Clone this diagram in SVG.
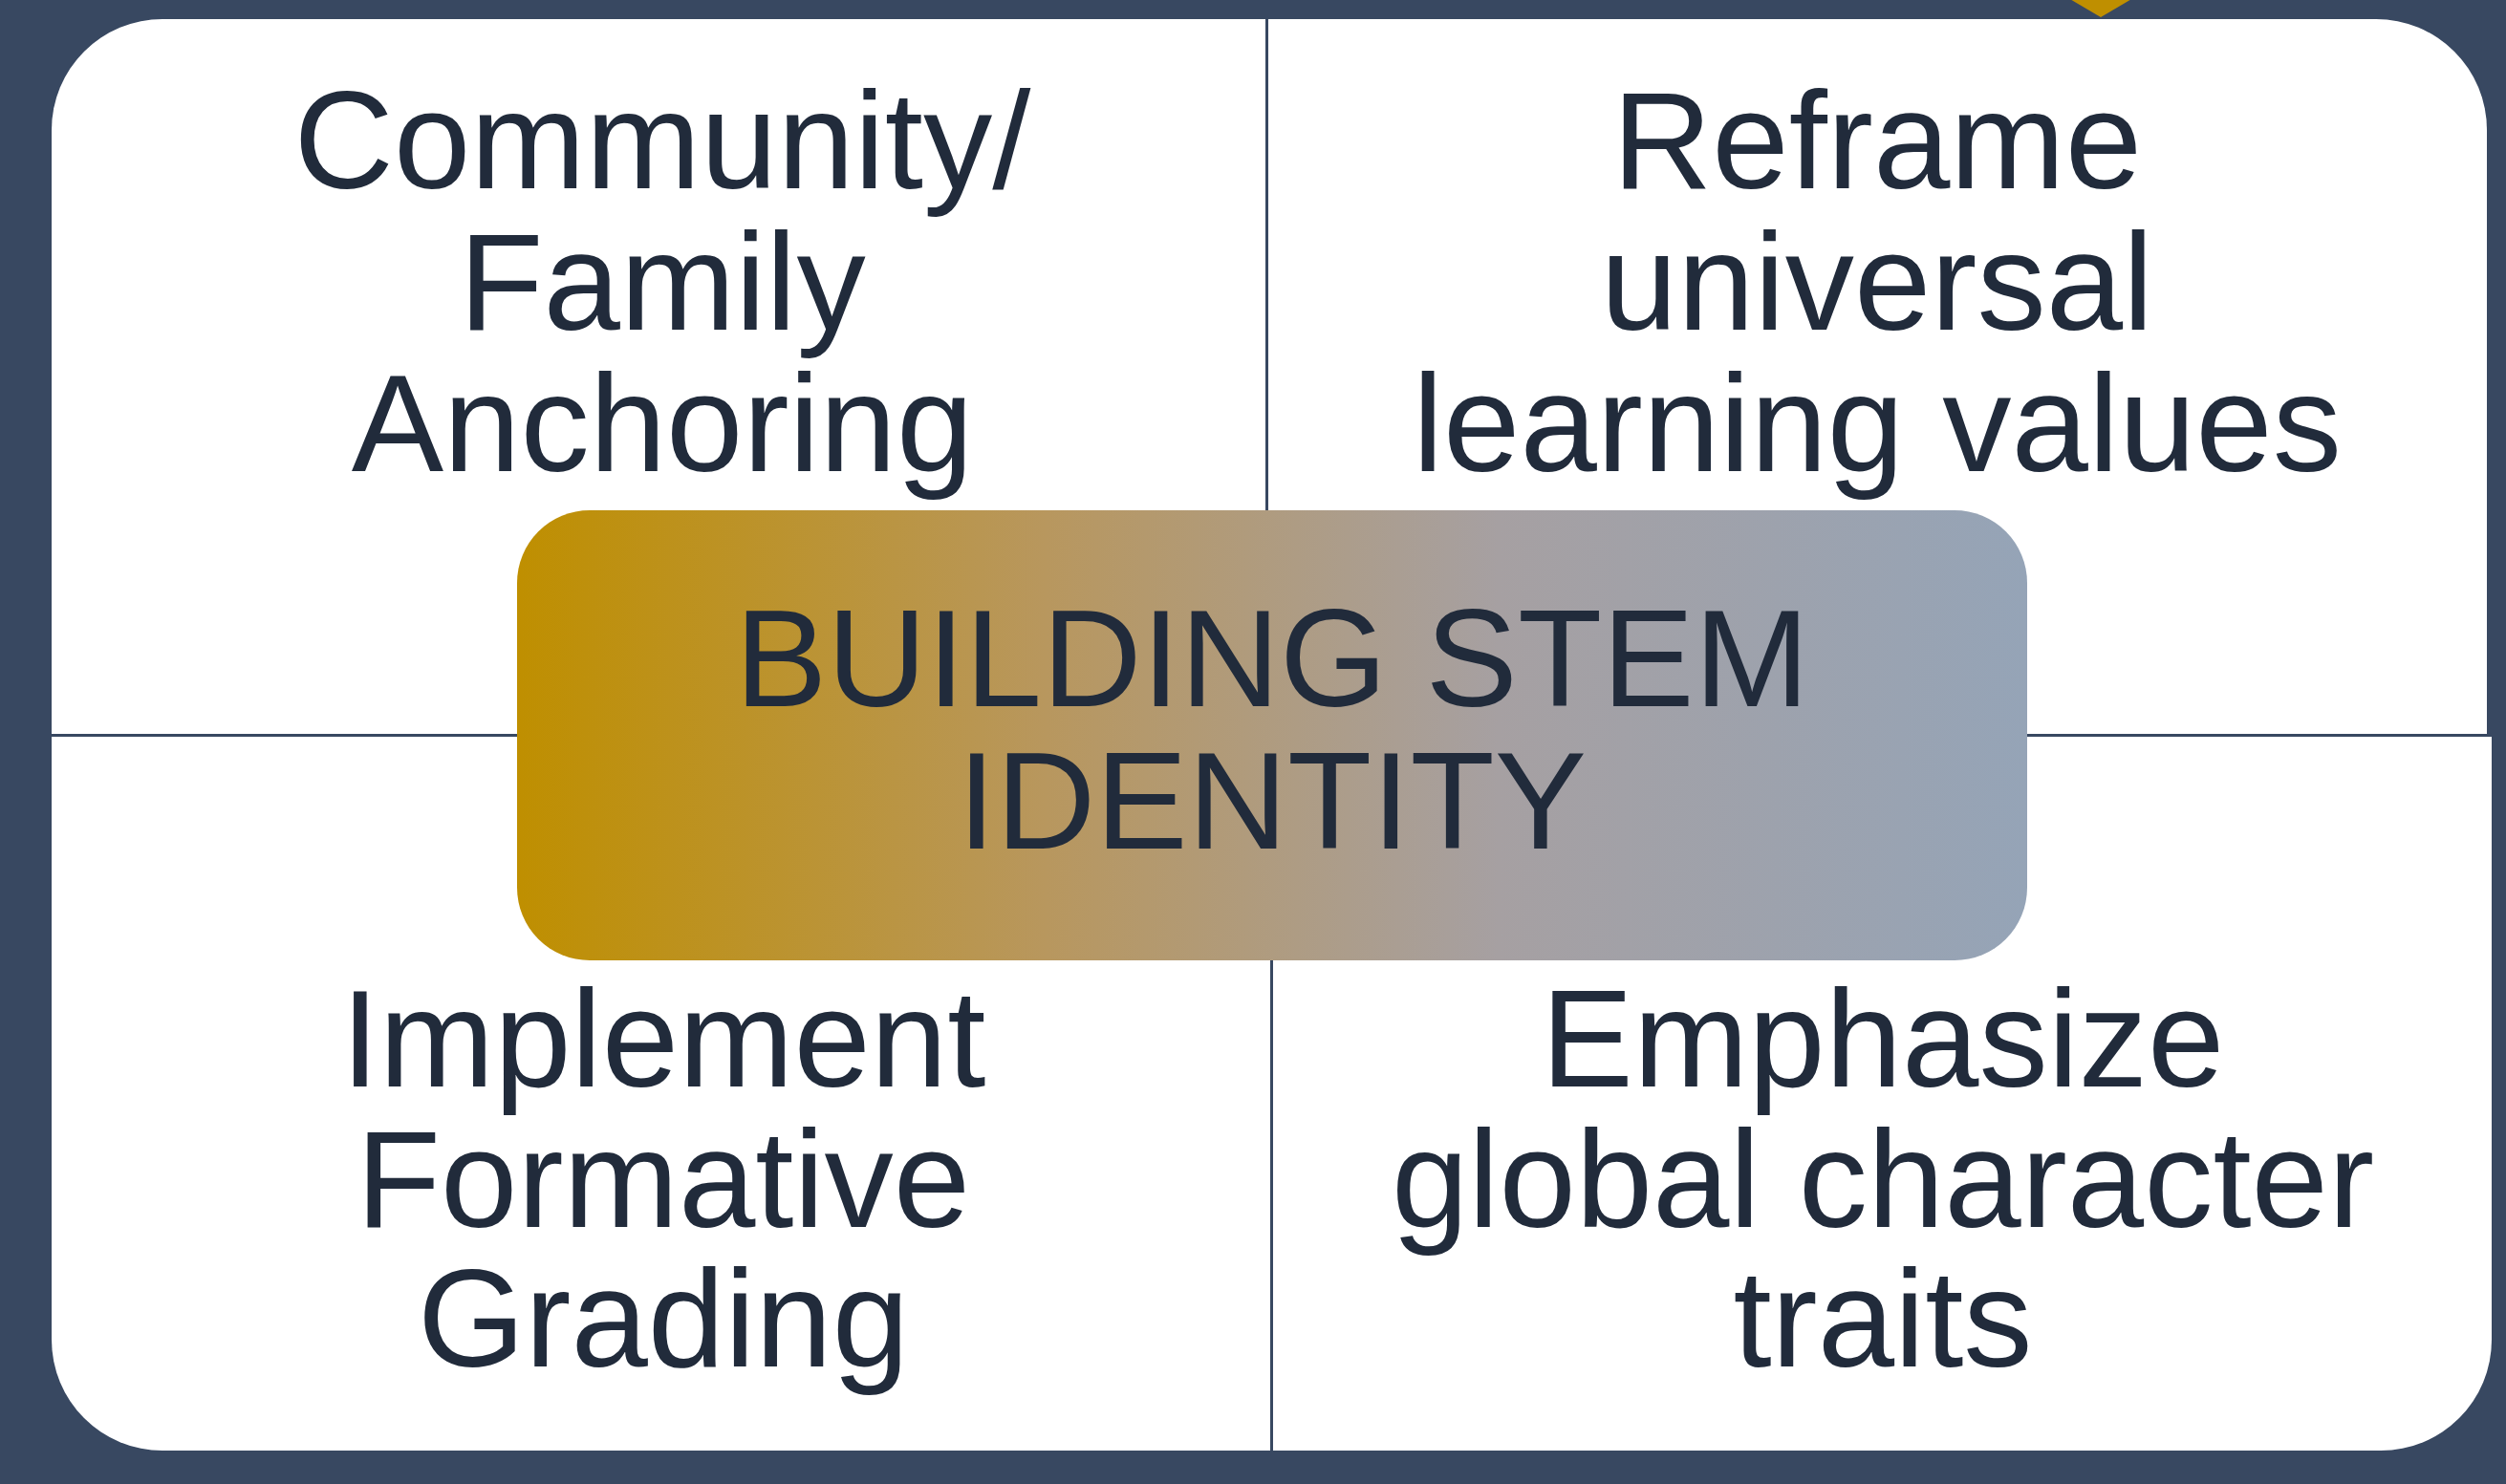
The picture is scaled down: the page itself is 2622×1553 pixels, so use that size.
<svg xmlns="http://www.w3.org/2000/svg" width="2622" height="1553" viewBox="0 0 2622 1553">
  <defs>
    <linearGradient id="centerGrad" x1="0" y1="0" x2="1" y2="0">
      <stop offset="0" stop-color="#BF8F00"/>
      <stop offset="0.35" stop-color="#B8975E"/>
      <stop offset="0.65" stop-color="#A6A0A2"/>
      <stop offset="1" stop-color="#95A4B7"/>
    </linearGradient>
  </defs>
  <style>
    .quad { fill: #FFFFFF; }
    .label { font-family: "Liberation Sans", Arial, sans-serif; font-size: 144.5px; fill: #212B3B; text-anchor: middle; }
  </style>
  <rect x="0" y="0" width="2622" height="1553" fill="#384861"/>
  <polygon points="2164,-2 2232,-2 2198,18" fill="#BF8F00"/>

  <g id="quad-top-left">
    <path class="quad" d="M54,136 A116,116 0 0 1 170,20 H1324 V768 H54 Z"/>
    <text class="label" x="693" y="197">Community/</text>
    <text class="label" x="693" y="345">Family</text>
    <text class="label" x="693" y="493">Anchoring</text>
  </g>

  <g id="quad-top-right">
    <path class="quad" d="M1327,20 H2486 A116,116 0 0 1 2602,136 V768 H1327 Z"/>
    <text class="label" x="1964" y="197">Reframe</text>
    <text class="label" x="1964" y="345">universal</text>
    <text class="label" x="1964" y="493">learning values</text>
  </g>

  <g id="quad-bottom-left">
    <path class="quad" d="M54,771 H1329 V1518 H170 A116,116 0 0 1 54,1402 Z"/>
    <text class="label" x="694" y="1137">Implement</text>
    <text class="label" x="694" y="1284">Formative</text>
    <text class="label" x="694" y="1430">Grading</text>
  </g>

  <g id="quad-bottom-right">
    <path class="quad" d="M1332,771 H2607 V1402 A116,116 0 0 1 2491,1518 H1332 Z"/>
    <text class="label" x="1970" y="1137">Emphasize</text>
    <text class="label" x="1970" y="1284">global character</text>
    <text class="label" x="1970" y="1430">traits</text>
  </g>

  <g id="center">
    <rect x="541" y="534" width="1580" height="471" rx="76" ry="76" fill="url(#centerGrad)"/>
    <text class="label" x="1331" y="739">BUILDING STEM</text>
    <text class="label" x="1331" y="888">IDENTITY</text>
  </g>

  <g id="connectors"/>
</svg>
